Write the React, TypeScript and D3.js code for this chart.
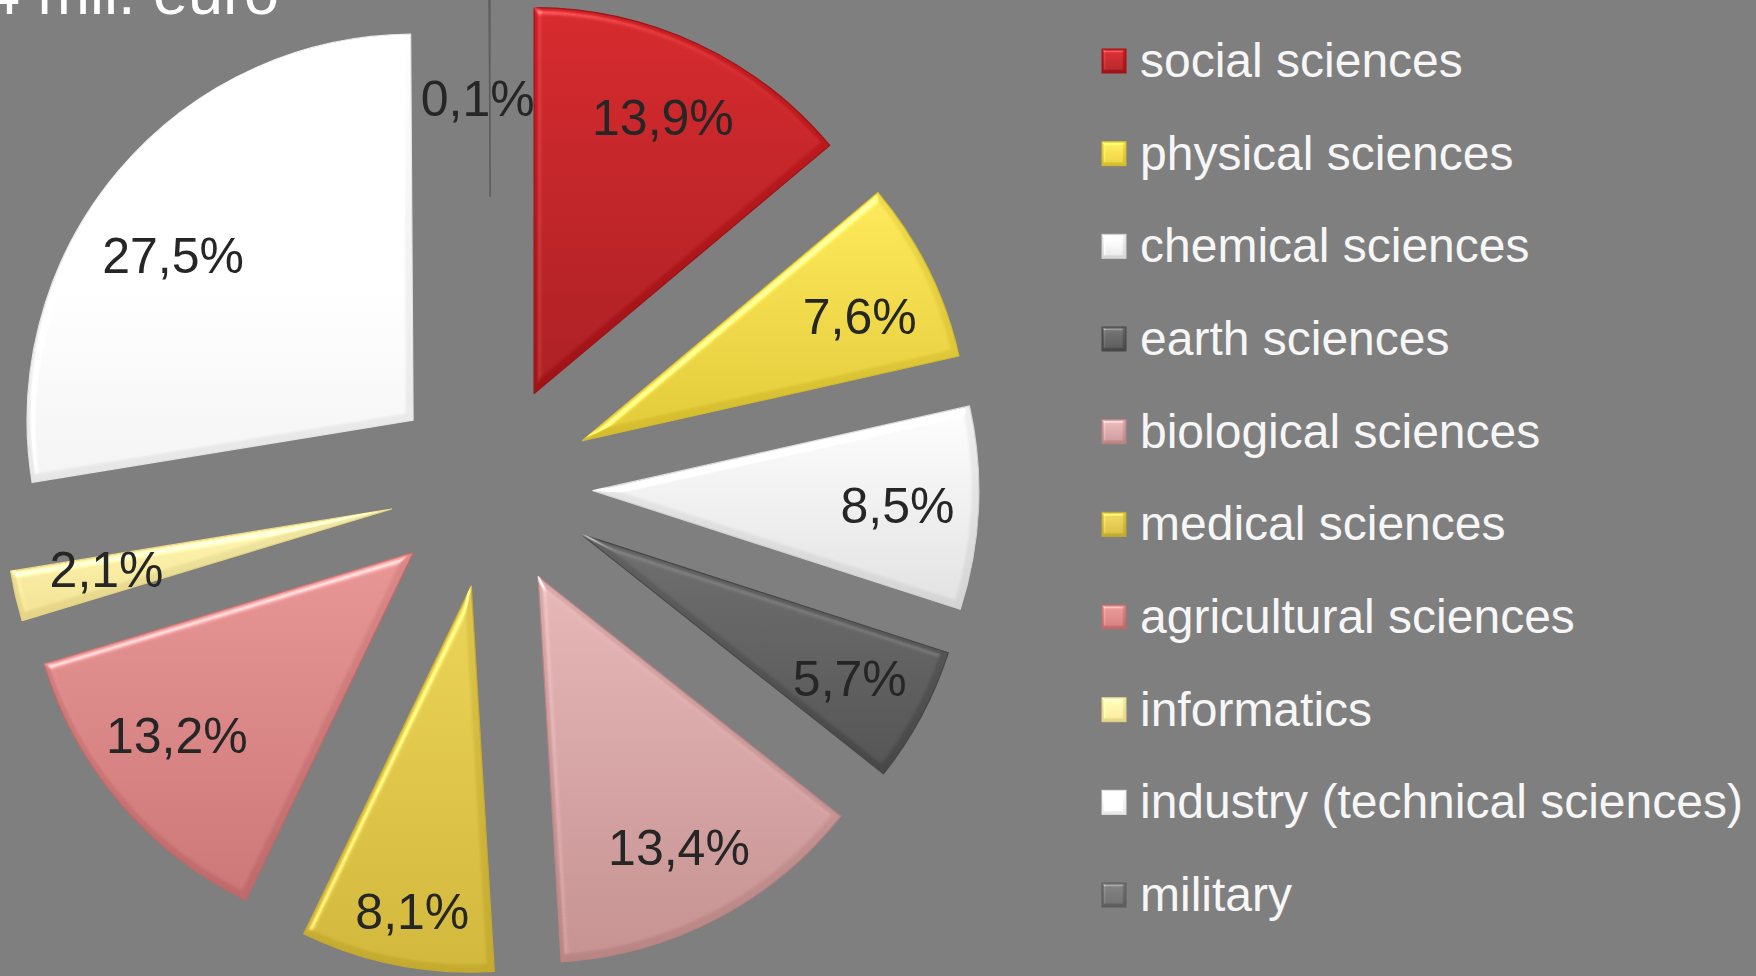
import React from "react";
import * as d3 from "d3";

const categories = [
  "social sciences",
  "physical sciences",
  "chemical sciences",
  "earth sciences",
  "biological sciences",
  "medical sciences",
  "agricultural sciences",
  "informatics",
  "industry (technical sciences)",
  "military",
];
const shares = [13.9, 7.6, 8.5, 5.7, 13.4, 8.1, 13.2, 2.1, 27.5, 0.1];
const topColors = ["#c91d21", "#f0dc4e", "#f0f0f0", "#626262", "#d9aaaa", "#dec74c", "#da8888", "#f3eba8", "#ffffff", "#707070"];
const bottomColors = ["#9e1317", "#d4bc2c", "#d4d4d4", "#474747", "#b88484", "#c4aa2e", "#bf6a6a", "#e4d486", "#e6e6e6", "#5c5c5c"];
const title = "4 mil. euro";

const W = 1756;
const H = 976;
const FONT = "'Liberation Sans', Arial, sans-serif";

const fmt = (v: number) => d3.format(".1f")(v).replace(".", ",") + "%";

// small hand nudges so labels sit where the original's "best fit" put them
const labelNudge: Record<string, [number, number]> = {
  "industry (technical sciences)": [-7, 32],
  "medical sciences": [0, 26],
  informatics: [12, -9],
  "agricultural sciences": [-5, -16],
  "physical sciences": [4, 11],
  military: [-12, 0],
};

export default function App() {
  const cx = 491;
  const cy = 486;
  const R = 386;
  const explode = 102;

  const pie = d3.pie<number>().sort(null).value((d) => d);
  const arcs = pie(shares);
  const arcGen = d3.arc<d3.PieArcDatum<number>>().innerRadius(0).outerRadius(R);

  // military sliver is pulled out further in the original
  const explodeFor = (i: number) => (categories[i] === "military" ? 289 : explode);

  const legendX = 1102;
  const legendY = d3.scalePoint<number>().domain(d3.range(categories.length)).range([77, 911]);

  return (
    <svg width={W} height={H} style={{ position: "absolute", left: 0, top: 0, display: "block" }}>
      <defs>
        {categories.map((c, i) => (
          <linearGradient key={c} id={`g${i}`} x1="0" y1="0" x2="0" y2="1">
            <stop offset="0" stopColor={topColors[i]} />
            <stop offset="1" stopColor={bottomColors[i]} />
          </linearGradient>
        ))}
        <filter id="bevel" x="-5%" y="-5%" width="110%" height="110%" colorInterpolationFilters="sRGB">
          <feGaussianBlur in="SourceAlpha" stdDeviation="3.5" result="blur" />
          <feSpecularLighting in="blur" surfaceScale="4" specularConstant="0.8" specularExponent="30" lightingColor="#ffffff" result="spec">
            <feDistantLight azimuth="235" elevation="48" />
          </feSpecularLighting>
          <feComposite in="spec" in2="SourceAlpha" operator="in" result="specIn" />
          <feComposite in="SourceGraphic" in2="specIn" operator="arithmetic" k1="0" k2="1" k3="0.55" k4="0" />
        </filter>
        <filter id="bevelSmall" x="-20%" y="-20%" width="140%" height="140%" colorInterpolationFilters="sRGB">
          <feGaussianBlur in="SourceAlpha" stdDeviation="1.5" result="blur" />
          <feSpecularLighting in="blur" surfaceScale="3" specularConstant="0.8" specularExponent="20" lightingColor="#ffffff" result="spec">
            <feDistantLight azimuth="235" elevation="45" />
          </feSpecularLighting>
          <feComposite in="spec" in2="SourceAlpha" operator="in" result="specIn" />
          <feComposite in="SourceGraphic" in2="specIn" operator="arithmetic" k1="0" k2="1" k3="0.5" k4="0" />
        </filter>
      </defs>

      <rect width={W} height={H} fill="#7f7f7f" />

      <text x={279} y={14} textAnchor="end" fontFamily={FONT} fontSize={63} fill="#ffffff">
        {title}
      </text>

      <g transform={`translate(${cx},${cy})`}>
        {arcs.map((a, i) => {
          const mid = (a.startAngle + a.endAngle) / 2;
          const e = explodeFor(i);
          const tx = Math.sin(mid) * e;
          const ty = -Math.cos(mid) * e;
          return (
            <path
              key={categories[i]}
              d={arcGen(a) || ""}
              transform={`translate(${tx},${ty})`}
              fill={`url(#g${i})`}
              stroke={bottomColors[i]}
              strokeWidth={categories[i] === "military" ? 1 : 1.2}
              strokeLinejoin="round"
              filter={categories[i] === "military" ? undefined : "url(#bevel)"}
            />
          );
        })}
        {arcs.map((a, i) => {
          const mid = (a.startAngle + a.endAngle) / 2;
          const isMil = categories[i] === "military";
          const r = explode + (isMil ? 0.74 : 0.79) * R;
          const [nx, ny] = labelNudge[categories[i]] || [0, 0];
          const x = Math.sin(mid) * r + nx;
          const y = -Math.cos(mid) * r + ny;
          return (
            <text
              key={`l${i}`}
              x={x}
              y={y}
              dy="0.36em"
              textAnchor="middle"
              fontFamily={FONT}
              fontSize={50}
              fill="#262626"
            >
              {fmt(shares[i])}
            </text>
          );
        })}
      </g>

      <g>
        {categories.map((c, i) => {
          const y = legendY(i) as number;
          return (
            <g key={`lg${i}`}>
              <rect x={legendX} y={y - 28} width={24} height={24} fill={`url(#g${i})`} stroke={bottomColors[i]} strokeWidth={1} filter="url(#bevelSmall)" />
              <text x={1140} y={y} fontFamily={FONT} fontSize={48} fill="#f6f6f6">
                {c}
              </text>
            </g>
          );
        })}
      </g>
    </svg>
  );
}
